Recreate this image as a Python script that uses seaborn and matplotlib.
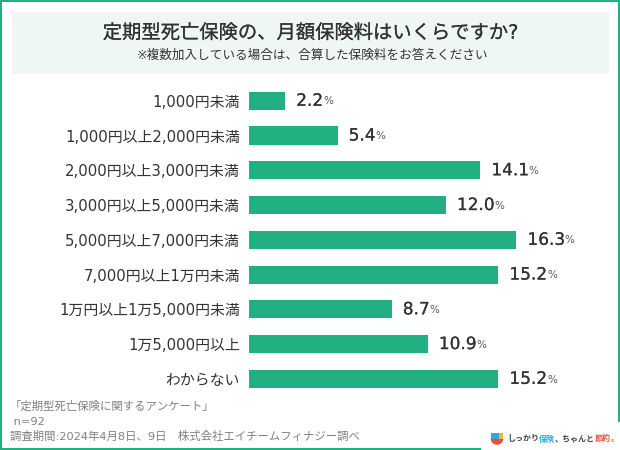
import matplotlib
matplotlib.use("Agg")
import matplotlib.pyplot as plt
import matplotlib.patheffects as pe
from matplotlib.patches import Rectangle, Wedge
import seaborn as sns

categories = ["1,000円未満", "1,000円以上2,000円未満", "2,000円以上3,000円未満",
              "3,000円以上5,000円未満", "5,000円以上7,000円未満", "7,000円以上1万円未満",
              "1万円以上1万5,000円未満", "1万5,000円以上", "わからない"]
shares = [2.2, 5.4, 14.1, 12.0, 16.3, 15.2, 8.7, 10.9, 15.2]

title = "定期型死亡保険の、月額保険料はいくらですか?"
subtitle = "※複数加入している場合は、合算した保険料をお答えください"
source_lines = ["「定期型死亡保険に関するアンケート」", " n=92",
                "調査期間:2024年4月8日、9日　株式会社エイチームフィナジー調べ"]
wordmark = [("しっかり", "#444444"), ("保険", "#2ea7e0"), ("、ちゃんと", "#444444"),
            ("節約", "#e8503a"), ("。", "#e8503a")]

GREEN = "#22b083"
PANEL = "#eef7f4"
INK = "#333333"
W, H = 620, 450

sns.set_theme(style="white")
plt.rcParams["font.family"] = ["DejaVu Sans", "Noto Sans CJK JP"]

# Slight outline gives the headline and value figures a medium weight
medium = [pe.withStroke(linewidth=0.12, foreground=INK)]

fig = plt.figure(figsize=(W / 100, H / 100), dpi=100, facecolor="white")

# Page furniture is laid out in pixel units on a full-figure overlay
page = fig.add_axes([0, 0, 1, 1], zorder=0)
page.set_xlim(0, W)
page.set_ylim(H, 0)
page.axis("off")
page.add_patch(Rectangle((12, 12), 597, 62, fc=PANEL, ec="none"))
page.add_patch(Rectangle((0, 0), W, 2, fc=GREEN, ec="none"))
page.add_patch(Rectangle((0, 0), 2, H, fc=GREEN, ec="none"))
page.add_patch(Rectangle((618, 0), 2, 422, fc=GREEN, ec="none"))
page.add_patch(Rectangle((0, 448), 481, 2, fc=GREEN, ec="none"))

page.text(310, 33, title, ha="center", va="center", fontsize=13.9, color=INK,
          path_effects=medium)
page.text(312, 55, subtitle, ha="center", va="center", fontsize=9.1, color=INK)

for y, line in zip([406, 422, 436], source_lines):
    page.text(10, y, line, ha="left", va="center", fontsize=8.2, color="#808080")

# Brand mark and wordmark in the lower right corner
page.add_patch(Wedge((497, 438.5), 6.3, 0, 180, fc="#e8503a", ec="none"))
page.add_patch(Rectangle((491, 433), 7.5, 6, fc="#2ea7e0", ec="none"))
page.add_patch(Rectangle((498.5, 433), 4.8, 5.5, fc="#f2b632", ec="none"))
word_x = 507
fig.canvas.draw()
for chunk, colour in wordmark:
    t = page.text(word_x, 439, chunk, ha="left", va="center", fontsize=5.8,
                  color=colour, fontweight="bold")
    word_x = page.transData.inverted().transform(
        (t.get_window_extent(fig.canvas.get_renderer()).x1, 0))[0]

# Main bar chart: one category per 34.75 px band
left, right = 249, W
top, bottom = 83.4, 396.2
ax = fig.add_axes([left / W, 1 - bottom / H, (right - left) / W, (bottom - top) / H], zorder=1)
ax.patch.set_alpha(0)
sns.barplot(x=shares, y=categories, orient="h", color=GREEN, saturation=1,
            width=0.52, linewidth=0, ax=ax)
ax.set_xlim(0, (right - left) / 16.4)
ax.set_ylim(8.5, -0.5)
ax.set_xticks([])
ax.set_xlabel("")
ax.set_ylabel("")
sns.despine(ax=ax, left=True, bottom=True)
ax.tick_params(axis="y", length=0, pad=6.5, labelsize=10.7, labelcolor=INK)

for i, v in enumerate(shares):
    number = ax.annotate(f"{v:.1f}", xy=(v, i), xytext=(8, 0), textcoords="offset points",
                         ha="left", va="center", fontsize=12.2, color=INK, path_effects=medium)
    ax.annotate("%", xy=(1, 0.5), xycoords=number, xytext=(0, -0.5), textcoords="offset points",
                ha="left", va="center", fontsize=7.5, color="#555555")

fig.savefig("out.png", dpi=100)
